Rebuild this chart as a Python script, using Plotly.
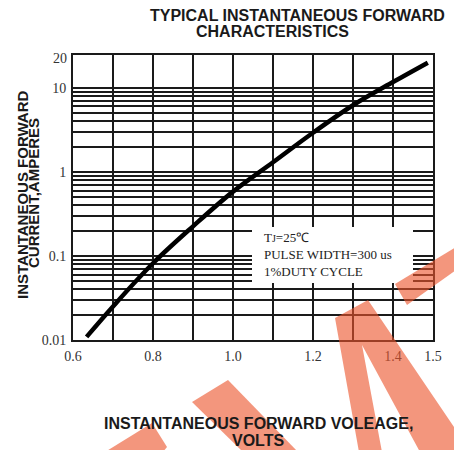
import plotly.graph_objects as go

# ---------------- data ----------------
voltage = [0.634, 0.70, 0.80, 0.90, 1.00, 1.10, 1.20, 1.30, 1.40, 1.487]
current = [0.0109, 0.0251, 0.0818, 0.225, 0.582, 1.30, 2.92, 6.2, 11.7, 19.9]

x_tick_vals = [0.6, 0.7, 0.8, 0.9, 1.0, 1.1, 1.2, 1.3, 1.4, 1.5]
x_tick_text = ["0.6", "", "0.8", "", "1.0", "", "1.2", "", "1.4", "1.5"]

y_tick_vals = [0.01, 0.02, 0.03, 0.04, 0.05, 0.06, 0.07, 0.08, 0.09,
               0.1, 0.2, 0.3, 0.4, 0.5, 0.6, 0.7, 0.8, 0.9,
               1, 2, 3, 4, 5, 6, 7, 8, 9, 10]
y_tick_text = ["0.01", "", "", "", "", "", "", "", "",
               "0.1", "", "", "", "", "", "", "", "",
               "1", "", "", "", "", "", "", "", "", "10"]
y_top_label = "20"

title_lines = ["TYPICAL INSTANTANEOUS FORWARD", "CHARACTERISTICS"]
x_title_lines = ["INSTANTANEOUS FORWARD VOLEAGE,", "VOLTS"]
y_title_lines = ["INSTANTANEOUS FORWARD", "CURRENT,AMPERES"]
note_lines = ["T<span style='font-size:10px'>J</span>=25\u2103",
              "PULSE WIDTH=300 us", "1%DUTY CYCLE"]

# ---------------- layout geometry (pixels) ----------------
W, H = 454, 450
L, R, T, B = 73, 21, 55, 110
PW, PH = W - L - R, H - T - B


def px(xp):
    return (xp - L) / PW


def py(yp):
    return (H - B - yp) / PH


def poly(points):
    return "M " + " L ".join(f"{px(a):.4f},{py(b):.4f}" for a, b in points) + " Z"


SANS = "Liberation Sans, Arial, sans-serif"
SERIF = "Liberation Serif, Times New Roman, serif"

fig = go.Figure()
fig.add_trace(go.Scatter(
    x=voltage, y=current, mode="lines",
    line=dict(color="#000000", width=4.5, shape="spline", smoothing=1.0),
    hoverinfo="skip", showlegend=False,
))

axis_common = dict(
    showgrid=True, gridcolor="#1a1a1a", gridwidth=1.6,
    showline=True, linecolor="#1a1a1a", linewidth=2, mirror=True,
    zeroline=False, ticks="", tickmode="array",
    tickfont=dict(family=SERIF, size=14, color="#333333"),
)

fig.update_xaxes(range=[0.6, 1.5], tickvals=x_tick_vals, ticktext=x_tick_text,
                 ticklabelstandoff=2, **axis_common)
fig.update_yaxes(type="log", range=[-2, 1.39], tickvals=y_tick_vals,
                 ticktext=y_tick_text, ticklabelstandoff=2, **axis_common)

annotations = []
annotations.append(dict(text=f"<b>{title_lines[0]}</b>", x=px(297), y=py(15)))
annotations.append(dict(text=f"<b>{title_lines[1]}</b>", x=px(272), y=py(32)))
annotations.append(dict(text=f"<b>{x_title_lines[0]}</b>", x=px(258), y=py(423)))
annotations.append(dict(text=f"<b>{x_title_lines[1]}</b>", x=px(258), y=py(440)))
for a in annotations:
    a.update(xref="paper", yref="paper", xanchor="center", yanchor="middle",
             showarrow=False, font=dict(family=SANS, size=16, color="#1a1a1a"))
for i, (xx, yy) in enumerate([(22, 195), (33, 193)]):
    annotations.append(dict(text=f"<b>{y_title_lines[i]}</b>", x=px(xx), y=py(yy),
                            xref="paper", yref="paper", xanchor="center",
                            yanchor="middle", textangle=-90, showarrow=False,
                            font=dict(family=SANS, size=15, color="#1a1a1a")))
annotations.append(dict(text=y_top_label, x=0, y=py(58), xref="paper", yref="paper",
                        xanchor="right", yanchor="middle", xshift=-4, showarrow=False,
                        font=dict(family=SERIF, size=14, color="#333333")))
annotations.append(dict(text="<br>".join(note_lines), x=px(262), y=py(254),
                        xref="paper", yref="paper", xanchor="left", yanchor="middle",
                        align="left", showarrow=False,
                        font=dict(family=SERIF, size=13, color="#222222")))

shapes = []
shapes.append(dict(type="rect", xref="paper", yref="paper",
                   x0=px(252), x1=px(413), y0=py(283), y1=py(227),
                   fillcolor="white", line=dict(width=0), layer="above"))
wm = "rgba(235,85,45,0.62)"
for pts in [
    [(105, 452), (152, 423), (167, 447), (163, 452)],
    [(192, 402), (228, 380), (298, 452), (243, 452)],
    [(335, 318), (368, 300), (456, 430), (456, 452), (420, 452), (362, 345), (382, 452), (359, 452)],
    [(395, 284), (456, 247), (456, 270), (407, 305)],
]:
    shapes.append(dict(type="path", xref="paper", yref="paper", path=poly(pts),
                       fillcolor=wm, line=dict(width=0), layer="above"))

fig.update_layout(
    width=W, height=H, autosize=False,
    margin=dict(l=L, r=R, t=T, b=B, pad=0),
    plot_bgcolor="white", paper_bgcolor="white",
    annotations=annotations, shapes=shapes, showlegend=False,
)

fig.write_html("out.html", config={"displayModeBar": False},
               post_script="document.body.style.margin='0px';")
